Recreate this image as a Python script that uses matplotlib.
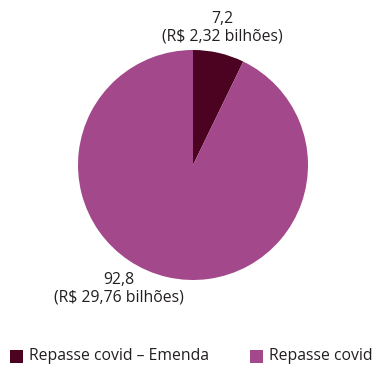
import matplotlib
matplotlib.use("Agg")
import matplotlib.pyplot as plt
from matplotlib.patches import Rectangle

plt.rcParams['font.family'] = ['Open Sans', 'DejaVu Sans']

categories = ["Repasse covid – Emenda", "Repasse covid"]
shares = [7.2, 92.8]
amounts_bi = [2.32, 29.76]
colors = ["#4b0321", "#a2488b"]

W, H = 373, 365
fig = plt.figure(figsize=(W / 100, H / 100), dpi=100)
ax = fig.add_axes([0, 0, 1, 1])

cx, cy, r = 193, H - 165, 115
ax.pie(shares, colors=colors, startangle=90, counterclock=False,
       center=(cx, cy), radius=r, frame=True,
       wedgeprops=dict(linewidth=0))
ax.set_xlim(0, W)
ax.set_ylim(0, H)
ax.set_aspect('equal')
ax.axis('off')


def fmt(v, nd):
    return f"{v:.{nd}f}".replace('.', ',')


text_color = '#231f20'
label_pos = [(222, H - 28), (119, H - 289)]
for s, a, (x, y) in zip(shares, amounts_bi, label_pos):
    ax.text(x, y, f"{fmt(s, 1)}\n(R$ {fmt(a, 2)} bilhões)", ha='center', va='center',
            fontsize=11.3, color=text_color, linespacing=1.1)

# legend drawn as swatches + labels along the bottom
legend_x = [10, 250]
legend_y = H - 356
sw = 13
for x, c, lab in zip(legend_x, colors, categories):
    ax.add_patch(Rectangle((x, legend_y - sw / 2), sw, sw, facecolor=c, edgecolor='none'))
    ax.text(x + sw + 6, legend_y, lab, ha='left', va='center',
            fontsize=11.3, color=text_color)

fig.savefig("out.png", dpi=100)
